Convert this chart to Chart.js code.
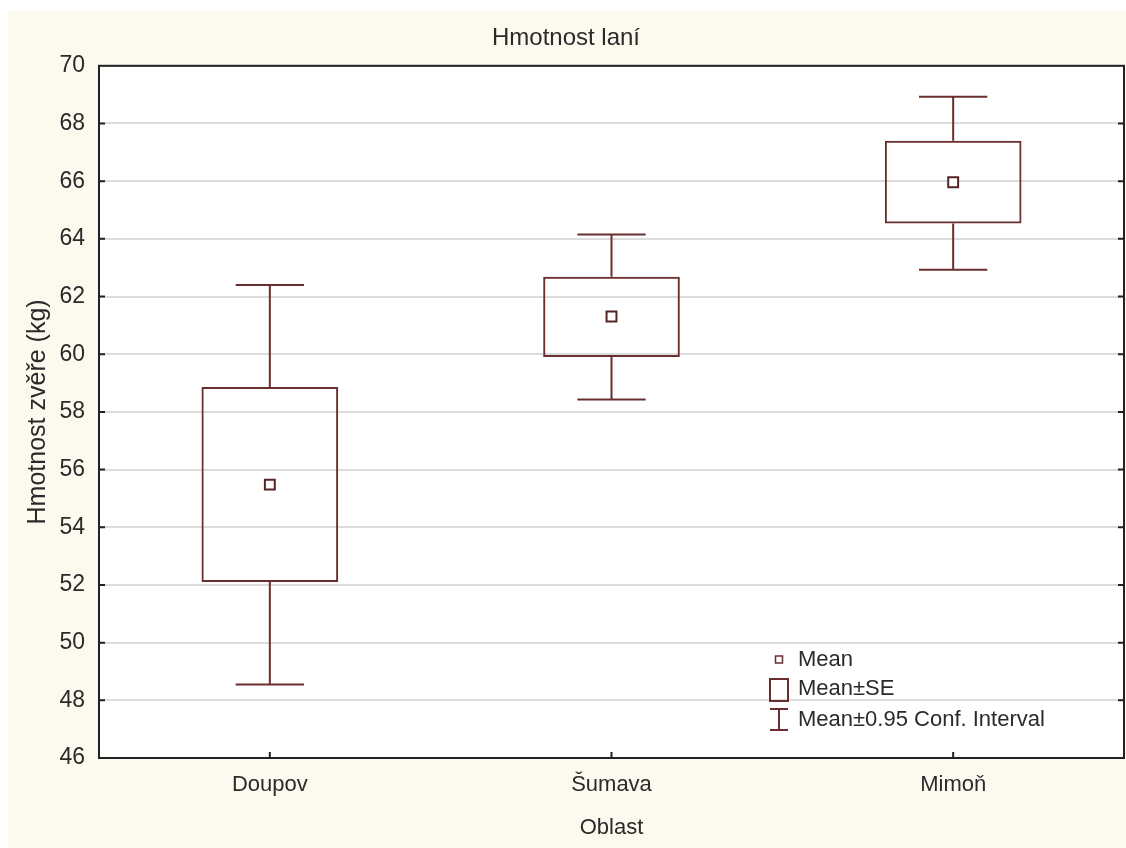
<!DOCTYPE html>
<html>
<head>
<meta charset="utf-8">
<script src="https://cdn.jsdelivr.net/npm/chart.js@4"></script>
<style>
  html, body { margin: 0; padding: 0; background: #fff; }
  #wrap { width: 1126px; height: 848px; }
</style>
</head>
<body>
<div id="wrap"><canvas id="graf"></canvas></div>
<script>
// data
const oblasti = ['Doupov', 'Šumava', 'Mimoň']
const prumer = [55.48, 61.31, 65.96]
const seDolni = [52.1, 59.9, 64.53]
const seHorni = [58.86, 62.69, 67.4]
const ciDolni = [48.55, 58.43, 62.93]
const ciHorni = [62.4, 64.15, 68.93]
const yTicks = [46, 48, 50, 52, 54, 56, 58, 60, 62, 64, 66, 68, 70]

const barva = '#6b2e2e'
const text = '#2a2a2a'

Chart.defaults.font.family = "'Liberation Sans', Arial, sans-serif"
Chart.defaults.color = text

const kresleni = {
  id: 'kresleni',
  beforeDraw(chart) {
    const { ctx, chartArea: a, width, height } = chart
    ctx.save()
    ctx.fillStyle = '#ffffff'
    ctx.fillRect(0, 0, width, height)
    ctx.fillStyle = '#fcf9ef'
    ctx.fillRect(8, 11, width - 8, height - 11)
    ctx.fillStyle = '#ffffff'
    ctx.fillRect(a.left, a.top, a.right - a.left, a.bottom - a.top)
    ctx.restore()
  },
  afterDatasetsDraw(chart) {
    // whiskers = mean +- 0.95 conf. interval
    const { ctx } = chart
    const y = chart.scales.y
    const boxy = chart.getDatasetMeta(0).data
    ctx.save()
    ctx.strokeStyle = barva
    ctx.lineWidth = 2
    boxy.forEach((el, i) => {
      const x = el.x
      const pul = el.width / 4
      ctx.beginPath()
      ctx.moveTo(x, y.getPixelForValue(ciHorni[i]))
      ctx.lineTo(x, y.getPixelForValue(seHorni[i]))
      ctx.moveTo(x, y.getPixelForValue(seDolni[i]))
      ctx.lineTo(x, y.getPixelForValue(ciDolni[i]))
      ctx.moveTo(x - pul, y.getPixelForValue(ciHorni[i]))
      ctx.lineTo(x + pul, y.getPixelForValue(ciHorni[i]))
      ctx.moveTo(x - pul, y.getPixelForValue(ciDolni[i]))
      ctx.lineTo(x + pul, y.getPixelForValue(ciDolni[i]))
      ctx.stroke()
    })
    ctx.restore()
  },
  afterDraw(chart) {
    const { ctx, chartArea: a } = chart
    const y = chart.scales.y
    const x = chart.scales.x
    ctx.save()
    // frame
    ctx.strokeStyle = '#222'
    ctx.lineWidth = 2
    ctx.strokeRect(a.left, a.top, a.right - a.left, a.bottom - a.top)
    // inner ticks
    ctx.beginPath()
    yTicks.slice(1, -1).forEach(v => {
      const py = y.getPixelForValue(v)
      ctx.moveTo(a.left, py)
      ctx.lineTo(a.left + 6, py)
      ctx.moveTo(a.right - 6, py)
      ctx.lineTo(a.right, py)
    })
    oblasti.forEach((o, i) => {
      const px = x.getPixelForValue(i)
      ctx.moveTo(px, a.bottom)
      ctx.lineTo(px, a.bottom - 6)
    })
    ctx.stroke()

    // legend
    const sx = a.left + 680
    const tx = a.left + 699
    const r1 = a.bottom - 98
    const r2 = a.bottom - 69
    const r3 = a.bottom - 38
    ctx.strokeStyle = barva
    ctx.lineWidth = 1.5
    ctx.strokeRect(sx - 3.5, r1 - 4, 7, 7)
    ctx.lineWidth = 2
    ctx.strokeRect(sx - 9, r2 - 10, 18, 22)
    ctx.beginPath()
    ctx.moveTo(sx - 9, r3 - 11)
    ctx.lineTo(sx + 9, r3 - 11)
    ctx.moveTo(sx, r3 - 11)
    ctx.lineTo(sx, r3 + 10)
    ctx.moveTo(sx - 9, r3 + 10)
    ctx.lineTo(sx + 9, r3 + 10)
    ctx.stroke()
    ctx.fillStyle = text
    ctx.font = "22px 'Liberation Sans', Arial, sans-serif"
    ctx.textBaseline = 'middle'
    ctx.textAlign = 'left'
    ctx.fillText('Mean', tx, r1)
    ctx.fillText('Mean±SE', tx, r2)
    ctx.fillText('Mean±0.95 Conf. Interval', tx, r3)
    ctx.restore()
  }
}

new Chart(document.getElementById('graf'), {
  type: 'bar',
  data: {
    labels: oblasti,
    datasets: [{
      label: 'Mean±SE',
      data: seDolni.map((v, i) => [v, seHorni[i]]),
      backgroundColor: 'rgba(255, 255, 255, 0)',
      borderColor: barva,
      borderWidth: 2,
      borderSkipped: false,
      categoryPercentage: 1,
      barPercentage: 0.4,
      order: 1
    }, {
      type: 'line',
      label: 'Mean',
      data: prumer,
      showLine: false,
      pointStyle: 'rect',
      pointRadius: 7,
      pointBorderWidth: 2,
      pointBorderColor: '#552424',
      pointBackgroundColor: '#ffffff',
      order: 0
    }]
  },
  options: {
    responsive: true,
    maintainAspectRatio: false,
    animation: false,
    devicePixelRatio: 1,
    layout: { autoPadding: false, padding: { top: 11, left: 8, right: 2, bottom: 0 } },
    plugins: {
      legend: { display: false },
      tooltip: { enabled: false },
      title: {
        display: true,
        text: 'Hmotnost laní',
        color: text,
        font: { size: 24, weight: 'normal' },
        padding: { top: 13, bottom: 13 }
      }
    },
    scales: {
      x: {
        grid: { display: false, drawTicks: false },
        border: { display: false },
        ticks: { font: { size: 22 }, color: text, padding: 14 },
        title: { display: true, text: 'Oblast', color: text, font: { size: 22 }, padding: { top: 0, bottom: 7 } },
        afterFit(s) {
          s.height = 90
          s.paddingLeft = 0
          s.paddingRight = 0
        }
      },
      y: {
        min: 46,
        max: 70,
        afterBuildTicks(s) { s.ticks = yTicks.map(v => ({ value: v })) },
        grid: { color: '#dcdcdc', lineWidth: 2, drawTicks: false },
        border: { display: false },
        ticks: { font: { size: 23 }, color: text, padding: 14 },
        title: { display: true, text: 'Hmotnost zvěře (kg)', color: text, font: { size: 25 }, padding: { top: 15, bottom: 0 } },
        afterFit(s) { s.width = 91 }
      }
    }
  },
  plugins: [kresleni]
})
</script>
</body>
</html>
